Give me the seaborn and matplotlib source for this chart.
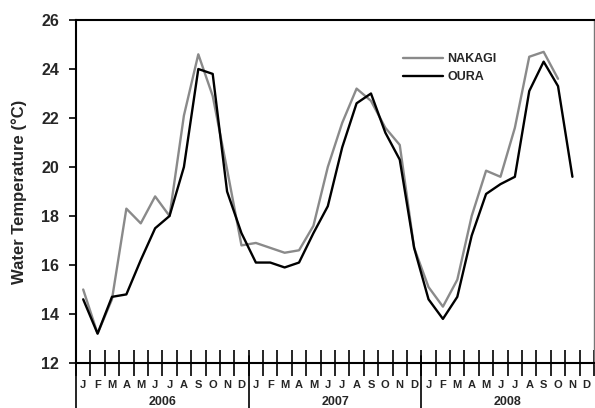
import matplotlib
matplotlib.use("Agg")
import matplotlib.pyplot as plt
import matplotlib.transforms as mtransforms
import seaborn as sns
import pandas as pd
import numpy as np

months = ["J", "F", "M", "A", "M", "J", "J", "A", "S", "O", "N", "D"]
years = ["2006", "2007", "2008"]

nakagi = [15.0, 13.2, 14.6, 18.3, 17.7, 18.8, 18.0, 22.1, 24.6, 22.9, 19.9, 16.8,
          16.9, 16.7, 16.5, 16.6, 17.6, 20.0, 21.8, 23.2, 22.7, 21.6, 20.9, 16.7,
          15.1, 14.3, 15.4, 18.0, 19.85, 19.6, 21.6, 24.5, 24.7, 23.6, None, None]
oura = [14.6, 13.2, 14.7, 14.8, 16.2, 17.5, 18.0, 20.0, 24.0, 23.8, 19.0, 17.3,
        16.1, 16.1, 15.9, 16.1, 17.3, 18.4, 20.8, 22.6, 23.0, 21.4, 20.3, 16.7,
        14.6, 13.8, 14.7, 17.2, 18.9, 19.3, 19.6, 23.1, 24.3, 23.3, 19.6, None]

n = len(months) * len(years)
df = pd.DataFrame({
    "month": np.arange(n) + 0.5,
    "NAKAGI": nakagi,
    "OURA": oura,
})
long = df.melt(id_vars="month", var_name="site", value_name="temp").dropna()

sns.set_style("white")
plt.rcParams["font.family"] = ["Liberation Sans", "DejaVu Sans"]

fig = plt.figure(figsize=(5.95, 4.08), dpi=100)
ax = fig.add_axes([76 / 595, 1 - 363 / 408, 518 / 595, 343 / 408])

sns.lineplot(data=long, x="month", y="temp", hue="site",
             palette={"NAKAGI": "#8a8a8a", "OURA": "#000000"},
             linewidth=1.7, ax=ax)

ax.set_xlim(0, n)
ax.set_ylim(12, 26)
ax.set_yticks(range(12, 27, 2))
ax.set_yticklabels([str(v) for v in range(12, 27, 2)], fontsize=11.5, fontweight="bold")
ax.tick_params(axis="y", direction="out", length=5, width=1.2, color="black", pad=7, left=True)

# month boundaries as major ticks, month letters on minor ticks
ax.set_xticks(np.arange(n + 1))
ax.set_xticklabels([])
ax.set_xticks(np.arange(n) + 0.5, minor=True)
ax.set_xticklabels(months * len(years), minor=True, fontsize=8, fontweight="bold")
ax.tick_params(axis="x", which="major", direction="inout", length=19, width=1.2,
               color="black", bottom=True)
ax.tick_params(axis="x", which="minor", length=0, pad=12)

ax.set_xlabel("")
ax.set_ylabel("Water Temperature (\u00b0C)", fontsize=12, fontweight="bold", labelpad=10)

for side in ["left", "bottom", "top"]:
    ax.spines[side].set_color("black")
    ax.spines[side].set_linewidth(1.5)
ax.spines["right"].set_color("#777777")
ax.spines["right"].set_linewidth(1.0)

# year separators and labels below the axis
trans = mtransforms.blended_transform_factory(ax.transData, ax.transAxes)
for k in range(len(years)):
    ax.plot([k * 12, k * 12], [0.02, -0.14], color="black", lw=1.2,
            transform=trans, clip_on=False)
    ax.text(k * 12 + 6, -0.115, years[k], transform=trans, ha="center", va="center",
            fontsize=9, fontweight="bold")

leg = ax.legend(loc="center left", bbox_to_anchor=(0.62, 0.86), frameon=False,
                fontsize=9, handlelength=3.2, handletextpad=0.3, labelspacing=0.5,
                borderpad=0, title=None)
for t in leg.get_texts():
    t.set_fontweight("bold")
for h in leg.get_lines():
    h.set_linewidth(1.7)

fig.savefig("out.png", dpi=100)
